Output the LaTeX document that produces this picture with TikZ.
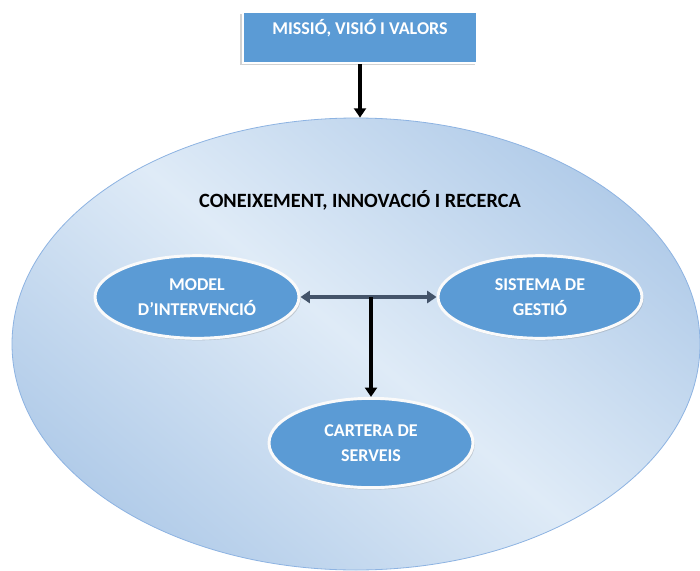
\documentclass[tikz,border=0pt]{standalone}
\usepackage{fontspec}
\setmainfont{Carlito}[BoldFont={Carlito Bold}]
\usetikzlibrary{shapes.geometric,shadows,arrows.meta}
\definecolor{boxblue}{HTML}{5B9BD5}
\definecolor{paleblue}{HTML}{DFEBF7}
\definecolor{deepblue}{HTML}{B2CCE9}
\definecolor{rimblue}{HTML}{8DB3E2}
\definecolor{slate}{HTML}{44546A}
\newcommand{\labelfont}{\fontsize{13.5}{18.75}\selectfont\bfseries}
\newcommand{\titlefont}{\fontsize{15.2}{18.75}\selectfont\bfseries}

\begin{document}
\begin{tikzpicture}[x=0.75pt,y=-0.75pt,
  topbox/.style={rectangle, fill=boxblue, draw=white, line width=1.5pt,
    minimum width=176pt, inner ysep=0pt, text height=16.5pt, text depth=21.75pt,
    text=white, font=\labelfont,
    drop shadow={shadow xshift=-1.8pt, shadow yshift=-1.8pt, opacity=0.35}},
  bigoval/.style={ellipse, draw=rimblue, line width=0.6pt,
    top color=deepblue, bottom color=deepblue, middle color=paleblue, shading angle=-40,
    minimum width=516pt, minimum height=339pt, inner sep=0pt},
  oval/.style={ellipse, fill=boxblue, draw=white!96!gray, line width=2.2pt,
    minimum width=153pt, minimum height=62pt, inner sep=0pt,
    text=white, align=center, font=\labelfont,
    drop shadow={shadow xshift=1.2pt, shadow yshift=-1.5pt, opacity=0.3}},
  blackarrow/.style={-{Triangle[length=7pt,width=9pt]}, line width=2.4pt, black},
  slatearrow/.style={{Triangle[length=7pt,width=9pt]}-{Triangle[length=7pt,width=9pt]}, line width=2.6pt, slate}]

 \useasboundingbox (0,0) rectangle (700,571);
 \fill[white] (0,0) rectangle (700,571);

 \node[bigoval] (cir) at (356,344) {};
 \node[font=\titlefont] (title) at (360,200) {CONEIXEMENT, INNOVACIÓ I RECERCA};

 \node[topbox] (mvv) at (360,37.5) {MISSIÓ, VISIÓ I VALORS};

 \node[oval] (model) at (197,297) {MODEL\\D’INTERVENCIÓ};
 \node[oval] (gestio) at (540,297) {SISTEMA DE\\GESTIÓ};
 \node[oval, minimum height=67pt] (cartera) at (371,443) {CARTERA DE\\SERVEIS};

 \draw[blackarrow] (mvv.south) -- (mvv.south |- cir.north);
 \draw[slatearrow] (model.east) -- (gestio.west);
 \draw[blackarrow] (cartera.north |- model.east) -- (cartera.north);

\end{tikzpicture}
\end{document}
